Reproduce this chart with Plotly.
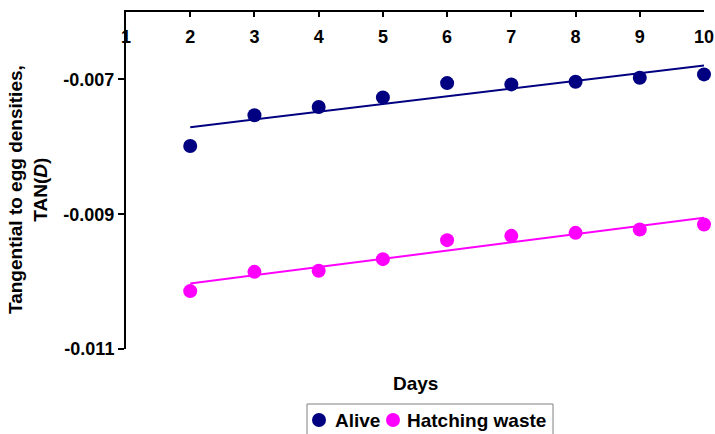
import numpy as np
import plotly.graph_objects as go

days = [2, 3, 4, 5, 6, 7, 8, 9, 10]
alive = [-0.007988, -0.007533, -0.007410, -0.007267, -0.007055, -0.007074, -0.007034, -0.006975, -0.006926]
hatching_waste = [-0.010141, -0.009855, -0.009840, -0.009667, -0.009385, -0.009321, -0.009277, -0.009227, -0.009153]
series_names = ["Alive", "Hatching waste"]
x_ticks = [1, 2, 3, 4, 5, 6, 7, 8, 9, 10]
y_ticks = [-0.007, -0.009, -0.011]

NAVY = "#000080"
MAGENTA = "#FF00FF"
FONT = "Liberation Sans, Arial, sans-serif"

def trend(xs, ys):
    k, b = np.polyfit(xs, ys, 1)
    xx = [min(xs), max(xs)]
    return xx, [k * v + b for v in xx]

series = [(series_names[0], alive, NAVY), (series_names[1], hatching_waste, MAGENTA)]

fig = go.Figure()
for name, ys, col in series:
    tx, ty = trend(days, ys)
    fig.add_trace(go.Scatter(x=tx, y=ty, mode="lines", line=dict(color=col, width=2),
                             showlegend=False, hoverinfo="skip", cliponaxis=False))
for name, ys, col in series:
    fig.add_trace(go.Scatter(x=days, y=ys, mode="markers", name=name, showlegend=False,
                             marker=dict(color=col, size=14, line=dict(width=0)),
                             cliponaxis=False))

L, R, T, B = 126, 11, 12, 85
W, H = 715, 434
pw, ph = W - L - R, H - T - B

def px(x):
    return (x - L) / pw

def py(y):
    return (H - B - y) / ph

# manual legend (box, symbols, labels)
shapes = [dict(type="rect", xref="paper", yref="paper",
               x0=px(307), x1=px(553), y0=py(404), y1=py(440),
               line=dict(color="#808080", width=1), fillcolor="white", layer="above")]
annotations = []
leg_items = [(319, 333), (393, 405)]
for (mx, tx), (name, ys, col) in zip(leg_items, series):
    shapes.append(dict(type="circle", xref="paper", yref="paper",
                       xsizemode="pixel", ysizemode="pixel",
                       xanchor=px(mx), yanchor=py(420), x0=-7, x1=7, y0=-7, y1=7,
                       fillcolor=col, line=dict(width=0), layer="above"))
    annotations.append(dict(text=f"<b>{name}</b>", x=px(tx), y=py(420), xref="paper", yref="paper",
                            xanchor="left", yanchor="middle", showarrow=False,
                            font=dict(family=FONT, size=19, color="black")))

annotations += [
    dict(text="<b>Days</b>", x=px(415), y=py(383), xref="paper", yref="paper",
         xanchor="center", yanchor="middle", showarrow=False,
         font=dict(family=FONT, size=19, color="black")),
    dict(text="<b>Tangential to egg densities,<br>TAN(<i>D</i>)</b>", x=px(28), y=py(190),
         xref="paper", yref="paper", xanchor="center", yanchor="middle",
         textangle=-90, showarrow=False,
         font=dict(family=FONT, size=19, color="black")),
]

fig.update_layout(
    width=W, height=H,
    margin=dict(l=L, r=R, t=T, b=B, pad=0, autoexpand=False),
    paper_bgcolor="white", plot_bgcolor="white",
    font=dict(family=FONT, size=18, color="black"),
    showlegend=False,
    xaxis=dict(range=[1, 10], side="top", tickmode="array", tickvals=x_ticks,
               ticktext=[f"<b>{v}</b>" for v in x_ticks],
               ticks="inside", ticklen=5, tickwidth=2, tickcolor="black",
               ticklabelposition="inside", ticklabelstandoff=14,
               ticklabeloverflow="allow",
               showline=True, linecolor="black", linewidth=2,
               showgrid=False, zeroline=False,
               tickfont=dict(family=FONT, size=18, color="black")),
    yaxis=dict(range=[-0.011, -0.006], tickmode="array", tickvals=y_ticks,
               ticktext=[f"<b>{v:.3f}</b>" for v in y_ticks],
               ticks="outside", ticklen=6, tickwidth=2, tickcolor="black",
               showline=True, linecolor="black", linewidth=2,
               showgrid=False, zeroline=False,
               tickfont=dict(family=FONT, size=18, color="black")),
    shapes=shapes,
    annotations=annotations,
)

fig.write_html("out.html")
